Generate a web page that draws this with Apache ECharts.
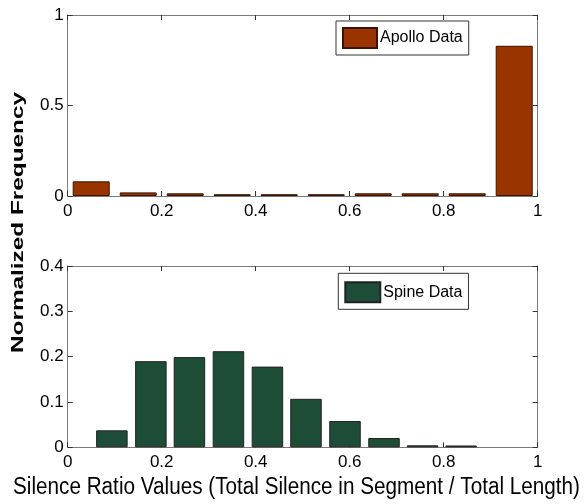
<!DOCTYPE html>
<html>
<head>
<meta charset="utf-8">
<script src="https://cdn.jsdelivr.net/npm/echarts@6/dist/echarts.min.js"></script>
<style>
html,body{margin:0;padding:0;background:#fff;}
#chart{width:587px;height:504px;}
</style>
</head>
<body>
<div id="chart"></div>
<script>
// Apollo histogram: bin centers and normalized frequency
var apolloCenters = [0.05, 0.15, 0.25, 0.35, 0.45, 0.55, 0.65, 0.75, 0.85, 0.95];
var apolloValues  = [0.081, 0.020, 0.015, 0.010, 0.010, 0.010, 0.015, 0.015, 0.015, 0.830];
// Spine histogram
var spineCenters = [0.094, 0.177, 0.259, 0.342, 0.425, 0.507, 0.590, 0.673, 0.755, 0.837];
var spineValues  = [0.0375, 0.190, 0.199, 0.212, 0.178, 0.107, 0.058, 0.0205, 0.0044, 0.0040];
var xTicks = [0, 0.2, 0.4, 0.6, 0.8, 1];
var topYTicks = [0, 0.5, 1];
var botYTicks = [0, 0.1, 0.2, 0.3, 0.4];
var seriesNames = ['Apollo Data', 'Spine Data'];
var yLabel = 'Normalized Frequency';
var xLabel = 'Silence Ratio Values (Total Silence in Segment / Total Length)';

function pairs(xs, ys){ return xs.map(function(x,i){ return [x, ys[i]]; }); }

var FONT = '"Liberation Sans", Arial, sans-serif';
var axisCol = '#7a7a7a';

function measure(font, text){
  var c = document.createElement('canvas').getContext('2d');
  c.font = font; return c.measureText(text).width;
}
var xLabelFont = '23px "Liberation Sans", Arial, sans-serif';
var yLabelFont = 'bold 20px "Liberation Sans", Arial, sans-serif';
var xLabelScale = 567 / measure(xLabelFont, xLabel);
var yLabelScale = 261 / measure(yLabelFont, yLabel);

function fmt(v){ return String(+v.toFixed(1)); }

function xAxisBase(gi, show){
  return {
    type:'value', gridIndex:gi, min:0, max:1, interval:0.2,
    position: show ? 'bottom' : 'top',
    axisLine:{show:true, onZero:false, lineStyle:{color:axisCol, width:1}},
    axisTick:{show:true, inside:true, length:5, lineStyle:{color:'#333'}},
    axisLabel:{show:show, color:'#000', fontFamily:FONT, fontSize:17, margin:7,
      formatter:fmt, customValues: xTicks},
    splitLine:{show:false}
  };
}
function yAxisBase(gi, show, max, interval){
  return {
    type:'value', gridIndex:gi, min:0, max:max, interval:interval,
    position: show ? 'left' : 'right',
    axisLine:{show:true, onZero:false, lineStyle:{color:axisCol, width:1}},
    axisTick:{show:true, inside:true, length:5, lineStyle:{color:'#333'}},
    axisLabel:{show:show, color:'#000', fontFamily:FONT, fontSize:17, margin:4,
      formatter:fmt},
    splitLine:{show:false}
  };
}

var chart = echarts.init(document.getElementById('chart'), null, {renderer:'canvas'});
chart.setOption({
  backgroundColor:'#fff',
  animation:false,
  grid:[
    {left:67.7, top:15, width:470, height:181, show:false, outerBoundsMode:'none', containLabel:false},
    {left:67.7, top:266, width:470, height:181.3, show:false, outerBoundsMode:'none', containLabel:false}
  ],
  xAxis:[ xAxisBase(0,true), xAxisBase(0,false), xAxisBase(1,true), xAxisBase(1,false) ],
  yAxis:[ yAxisBase(0,true,topYTicks[topYTicks.length-1],0.5), yAxisBase(0,false,1,0.5),
          yAxisBase(1,true,botYTicks[botYTicks.length-1],0.1), yAxisBase(1,false,0.4,0.1) ],
  legend:[
    {data:[{name:seriesNames[0], icon:'rect'}], left:336, top:21, padding:[6,6,6,6],
     itemWidth:34, itemHeight:20, itemGap:4, borderColor:'#333', borderWidth:1,
     backgroundColor:'#fff', borderRadius:0,
     textStyle:{color:'#000', fontFamily:FONT, fontSize:16, padding:[0,0,0,-2]}},
    {data:[{name:seriesNames[1], icon:'rect'}], left:338.3, top:273.3, padding:[8,6,6,6],
     itemWidth:35, itemHeight:20, itemGap:4, borderColor:'#333', borderWidth:1,
     backgroundColor:'#fff', borderRadius:0,
     textStyle:{color:'#000', fontFamily:FONT, fontSize:16, padding:[0,0,0,-2]}}
  ],
  graphic:[
    {type:'text', x:18, y:222.5, rotation:Math.PI/2, scaleX:yLabelScale, scaleY:0.82,
     style:{text:yLabel, fill:'#000', font:yLabelFont, textAlign:'center', textVerticalAlign:'middle'}},
    {type:'text', x:296.5, y:488, scaleX:xLabelScale, scaleY:1,
     style:{text:xLabel, fill:'#000', font:xLabelFont, textAlign:'center', textVerticalAlign:'middle'}}
  ],
  series:[
    {name:seriesNames[0], type:'bar', xAxisIndex:0, yAxisIndex:0,
     barWidth:37, data:pairs(apolloCenters, apolloValues),
     itemStyle:{color:'#993300', borderColor:'#3a1400', borderWidth:1}},
    {name:seriesNames[1], type:'bar', xAxisIndex:2, yAxisIndex:2,
     barWidth:31.5, data:pairs(spineCenters, spineValues),
     itemStyle:{color:'#1d4d36', borderColor:'#222', borderWidth:1}}
  ]
});
</script>
</body>
</html>
